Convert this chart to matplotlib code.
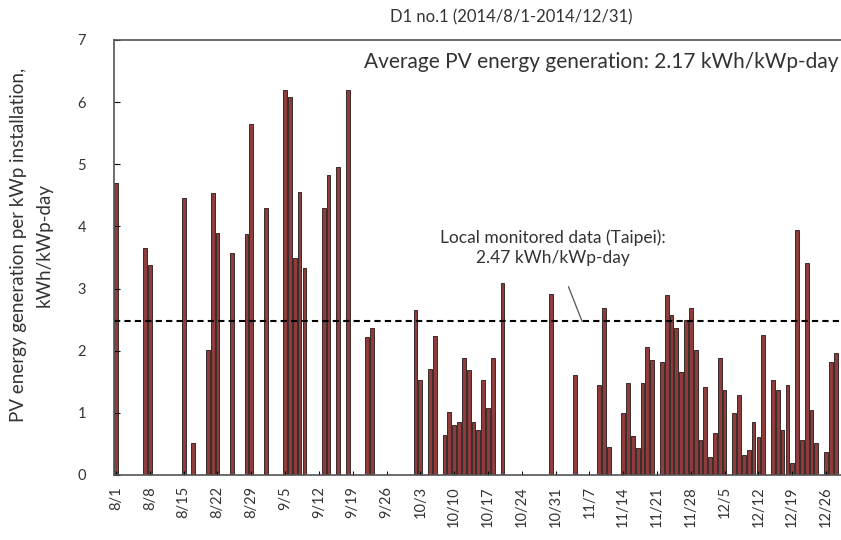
import pandas as pd
import matplotlib
matplotlib.use("Agg")
import matplotlib.pyplot as plt

plt.rcParams["font.family"] = ["Lato", "DejaVu Sans"]

# ---------------------------------------------------------------
# Daily PV yield for D1 no.1, 2014/8/1 - 2014/12/31 (kWh/kWp-day).
# Days without a record are simply left out.
# ---------------------------------------------------------------
dates = [
    "8/1", "8/7", "8/8", "8/15", "8/17", "8/20", "8/21", "8/22", "8/25", "8/28",
    "8/29", "9/1", "9/5", "9/6", "9/7", "9/8", "9/9", "9/13", "9/14", "9/16",
    "9/18", "9/22", "9/23", "10/2", "10/3", "10/5", "10/6", "10/8", "10/9", "10/10",
    "10/11", "10/12", "10/13", "10/14", "10/15", "10/16", "10/17", "10/18", "10/20", "10/30",
    "11/4", "11/9", "11/10", "11/11", "11/14", "11/15", "11/16", "11/17", "11/18", "11/19",
    "11/20", "11/22", "11/23", "11/24", "11/25", "11/26", "11/27", "11/28", "11/29", "11/30",
    "12/1", "12/2", "12/3", "12/4", "12/5", "12/7", "12/8", "12/9", "12/10", "12/11",
    "12/12", "12/13", "12/15", "12/16", "12/17", "12/18", "12/19", "12/20", "12/21", "12/22",
    "12/23", "12/24", "12/26", "12/27", "12/28",
]
energy = [
    4.70, 3.66, 3.38, 4.46, 0.51, 2.01, 4.54, 3.90, 3.57, 3.87,
    5.64, 4.30, 6.20, 6.09, 3.49, 4.56, 3.33, 4.30, 4.83, 4.96,
    6.20, 2.22, 2.37, 2.66, 1.53, 1.70, 2.23, 0.64, 1.02, 0.80,
    0.86, 1.88, 1.69, 0.86, 0.72, 1.53, 1.08, 1.88, 3.09, 2.91,
    1.61, 1.45, 2.69, 0.45, 1.00, 1.48, 0.62, 0.43, 1.48, 2.06,
    1.85, 1.82, 2.90, 2.58, 2.37, 1.66, 2.50, 2.69, 2.01, 0.56,
    1.42, 0.29, 0.67, 1.88, 1.37, 1.00, 1.29, 0.32, 0.40, 0.85,
    0.61, 2.25, 1.53, 1.37, 0.72, 1.45, 0.19, 3.95, 0.56, 3.41,
    1.05, 0.51, 0.37, 1.82, 1.96,
]

tick_labels = ["8/1", "8/8", "8/15", "8/22", "8/29", "9/5", "9/12", "9/19", "9/26",
               "10/3", "10/10", "10/17", "10/24", "10/31", "11/7", "11/14", "11/21",
               "11/28", "12/5", "12/12", "12/19", "12/26"]

avg_system = 2.17   # this installation
avg_taipei = 2.47   # local monitored reference

start = pd.Timestamp("2014-08-01")
end = pd.Timestamp("2014-12-31")


def day_index(md):
    return (pd.to_datetime("2014/" + md, format="%Y/%m/%d") - start).days


x = [day_index(d) for d in dates]
ticks = [day_index(d) for d in tick_labels]
n_days = (end - start).days

fig = plt.figure(figsize=(8.41, 5.4), dpi=100)
ax = fig.add_axes([0.1351, 0.1204, 0.8787, 0.8056])

ax.bar(x, energy, width=0.78, color="#8e3c3c", edgecolor="#3a2a2a", linewidth=0.7)

# Taipei reference level
ax.axhline(avg_taipei, color="black", linewidth=1.5, linestyle=(0, (3, 2)))

ax.set_xlim(-0.5, n_days + 0.5)
ax.set_ylim(0, 7)
ax.set_yticks(range(0, 8))
ax.set_xticks(ticks)
ax.set_xticklabels(tick_labels, rotation=90, fontsize=10.5, color="#333333")
ax.tick_params(axis="y", direction="in", length=4, pad=20, labelsize=10.5, labelcolor="#333333")
ax.tick_params(axis="x", direction="in", length=3, pad=8)
for s in ax.spines.values():
    s.set_color("#555555")
    s.set_linewidth(1.2)

fig.text(0.037, 0.546, "PV energy generation per kWp installation,\nkWh/kWp-day",
         rotation=90, ha="center", va="center", fontsize=13.5, color="#333333",
         linespacing=1.6, multialignment="center")
fig.text(0.608, 0.968, "D1 no.1 (2014/8/1-2014/12/31)", ha="center", va="center",
         fontsize=12, color="#333333")

fig.text(0.997, 0.885, f"Average PV energy generation: {avg_system:.2f} kWh/kWp-day",
         ha="right", va="center", fontsize=15, color="#333333")

ax.annotate(f"Local monitored data (Taipei):\n{avg_taipei:.2f} kWh/kWp-day",
            xy=(96.5, avg_taipei), xytext=(90.5, 3.66),
            ha="center", va="center", fontsize=12.5, color="#333333",
            linespacing=1.3,
            arrowprops=dict(arrowstyle="-", color="#555555", linewidth=0.9,
                            shrinkA=14, shrinkB=0))

fig.savefig("out.png", dpi=100)
